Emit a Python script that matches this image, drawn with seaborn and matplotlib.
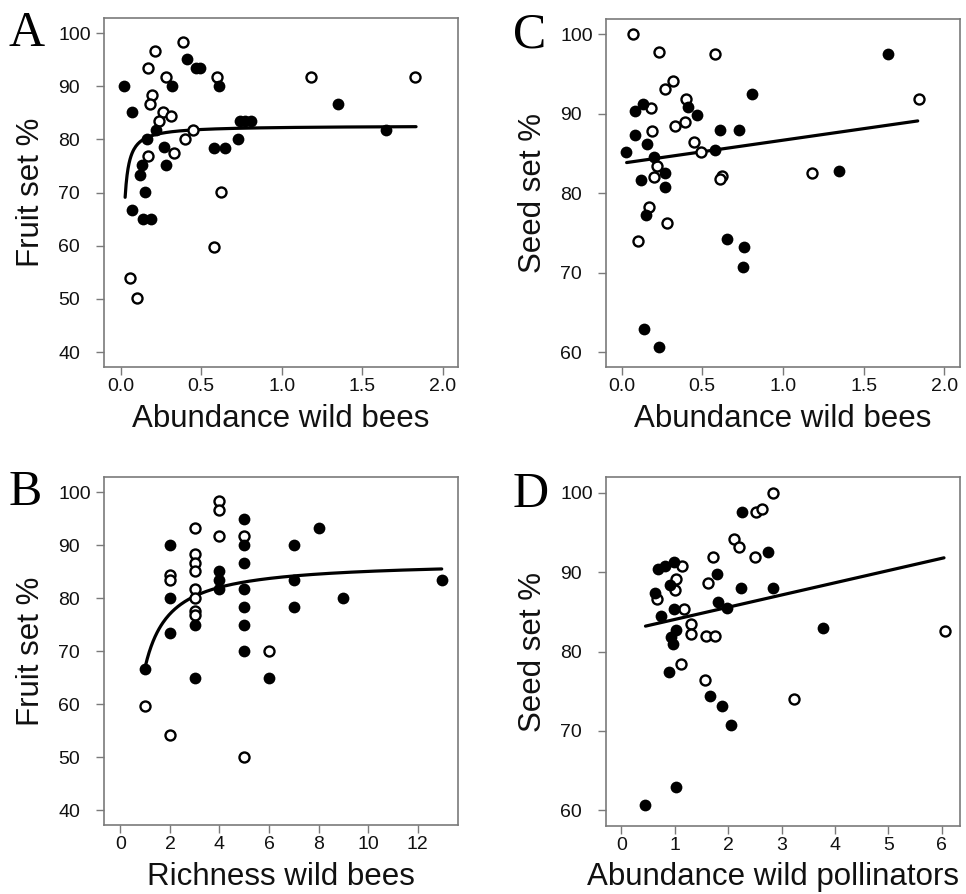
import numpy as np
import pandas as pd
import matplotlib
matplotlib.use("Agg")
import matplotlib.pyplot as plt
import seaborn as sns

sns.set_theme(style="white")
plt.rcParams['font.family'] = ['Liberation Sans', 'DejaVu Sans']

# ---------------- data ----------------
# Panel A: fruit set vs abundance of wild bees
a_fill_x = [0.02, 0.07, 0.41, 0.47, 0.49, 0.32, 0.61, 1.35, 0.74, 0.77, 0.81, 0.22, 0.16,
            0.73, 0.58, 0.65, 0.27, 0.13, 0.28, 0.12, 0.15, 0.07, 0.14, 0.19, 1.65]
a_fill_y = [90.1, 85.1, 95.1, 93.4, 93.4, 90.1, 90.1, 86.7, 83.4, 83.4, 83.4, 81.8, 80.0,
            80.0, 78.3, 78.3, 78.5, 75.1, 75.1, 73.4, 70.1, 66.7, 65.0, 65.0, 81.7]
a_open_x = [0.385, 0.21, 0.17, 0.28, 0.60, 1.18, 1.83, 0.195, 0.18, 0.265, 0.31, 0.235,
            0.45, 0.40, 0.33, 0.17, 0.62, 0.58, 0.06, 0.10]
a_open_y = [98.4, 96.7, 93.4, 91.7, 91.7, 91.7, 91.7, 88.4, 86.7, 85.1, 84.4, 83.5,
            81.8, 80.0, 77.5, 76.8, 70.1, 59.7, 54.0, 50.1]
a_fit = dict(kind="recip", a=82.6, b=0.364, x0=0.027, x1=1.834)

# Panel B: fruit set vs richness of wild bees
b_fill_x = [1, 2, 2, 2, 3, 3, 4, 4, 4, 5, 5, 5, 5, 5, 5, 5, 6, 7, 7, 7, 8, 9, 13]
b_fill_y = [66.6, 90, 80, 73.4, 74.9, 64.9, 85.1, 83.4, 81.7, 95, 90, 86.7, 81.7, 78.4,
            74.9, 70, 64.9, 90, 83.4, 78.4, 93.3, 80, 83.4]
b_open_x = [1, 2, 2, 2, 3, 3, 3, 3, 3, 3, 3, 3, 4, 4, 4, 5, 5, 6]
b_open_y = [59.7, 84.4, 83.4, 54.1, 93.3, 88.4, 86.7, 85.1, 81.7, 80, 77.6, 76.8,
            98.3, 96.7, 91.7, 91.7, 50, 70]
b_fit = dict(kind="recip", a=87.04, b=20.04, x0=1.0, x1=12.97)

# Panel C: seed set vs abundance of wild bees
c_fill_x = [0.03, 0.08, 0.13, 0.08, 0.16, 0.20, 0.12, 0.27, 0.27, 0.15, 0.41, 0.47, 0.61,
            0.73, 0.58, 0.81, 1.65, 1.35, 0.65, 0.76, 0.75, 0.14, 0.23]
c_fill_y = [85.2, 90.4, 91.2, 87.3, 86.2, 84.5, 81.7, 82.6, 80.8, 77.3, 90.8, 89.9, 88.0,
            88.0, 85.5, 92.5, 97.5, 82.8, 74.3, 73.2, 70.7, 62.9, 60.6]
c_open_x = [0.07, 0.23, 0.58, 0.32, 0.27, 0.40, 0.18, 0.33, 0.39, 0.19, 0.45, 0.49, 0.22,
            0.20, 0.62, 0.61, 1.18, 1.84, 0.17, 0.28, 0.10]
c_open_y = [100, 97.8, 97.5, 94.1, 93.1, 91.8, 90.7, 88.4, 89.0, 87.8, 86.5, 85.2, 83.4,
            82.0, 82.2, 81.8, 82.6, 91.9, 78.3, 76.3, 74.0]
c_fit = dict(kind="linear", a=83.77, b=2.905, x0=0.031, x1=1.835)

# Panel D: seed set vs abundance of wild pollinators
d_fill_x = [0.69, 0.81, 0.98, 0.63, 0.91, 1.78, 2.24, 2.83, 2.75, 2.25, 0.74, 0.99, 1.81,
            1.97, 1.03, 0.92, 0.97, 0.89, 1.66, 1.88, 2.06, 3.77, 1.02, 0.44]
d_fill_y = [90.35, 90.8, 91.3, 87.4, 88.4, 89.8, 88.0, 88.0, 92.5, 97.5, 84.5, 85.3, 86.2,
            85.5, 82.7, 81.8, 80.9, 77.4, 74.4, 73.2, 70.7, 82.9, 63.0, 60.7]
d_open_x = [2.84, 2.52, 2.64, 2.11, 2.21, 2.51, 1.72, 1.14, 1.02, 1.01, 1.63, 0.67, 1.17,
            1.30, 1.31, 1.59, 1.75, 1.11, 1.56, 3.23, 6.05]
d_open_y = [100, 97.5, 97.9, 94.2, 93.1, 91.9, 91.9, 90.7, 89.1, 87.8, 88.6, 86.6, 85.4,
            83.5, 82.2, 81.9, 82.0, 78.4, 76.4, 74.0, 82.6]
d_fit = dict(kind="linear", a=82.5, b=1.538, x0=0.45, x1=6.04)

# tick definitions and labels
xticks_ac = [0.0, 0.5, 1.0, 1.5, 2.0]
xticklabels_ac = ["0.0", "0.5", "1.0", "1.5", "2.0"]
xticks_b = [0, 2, 4, 6, 8, 10, 12]
xticks_d = [0, 1, 2, 3, 4, 5, 6]
yticks_ab = [40, 50, 60, 70, 80, 90, 100]
yticks_cd = [60, 70, 80, 90, 100]

# ---------------- figure ----------------
fig = plt.figure(figsize=(9.66, 8.94), dpi=100)

panels = [
    # letter, rect, fill, open, fit, xlim, ylim, xticks, xticklabels, yticks, xlabel, ylabel, letter pos, xlabel x
    ("A", [0.1077, 0.5895, 0.3665, 0.3907], (a_fill_x, a_fill_y), (a_open_x, a_open_y), a_fit,
     (-0.104, 2.095), (37.2, 102.9), xticks_ac, xticklabels_ac, yticks_ab,
     "Abundance wild bees", "Fruit set %", (0.0093, 0.9485), 0.5),
    ("C", [0.6273, 0.5892, 0.3665, 0.3893], (c_fill_x, c_fill_y), (c_open_x, c_open_y), c_fit,
     (-0.097, 2.097), (58.1, 101.9), xticks_ac, xticklabels_ac, yticks_cd,
     "Abundance wild bees", "Seed set %", (0.531, 0.9474), 0.5),
    ("B", [0.1077, 0.0772, 0.3665, 0.3896], (b_fill_x, b_fill_y), (b_open_x, b_open_y), b_fit,
     (-0.66, 13.63), (37.2, 102.9), xticks_b, [str(t) for t in xticks_b], yticks_ab,
     "Richness wild bees", "Fruit set %", (0.0093, 0.4351), 0.5),
    ("D", [0.6273, 0.0766, 0.3665, 0.3893], (d_fill_x, d_fill_y), (d_open_x, d_open_y), d_fit,
     (-0.29, 6.34), (58.1, 101.9), xticks_d, [str(t) for t in xticks_d], yticks_cd,
     "Abundance wild pollinators", "Seed set %", (0.531, 0.4329), 0.472),
]

spine_col = "#7a7a7a"
txt_col = "#111111"

for (letter, rect, fill, opn, fit, xlim, ylim, xt, xtl, yt, xlab, ylab, lpos, xlx) in panels:
    ax = fig.add_axes(rect)
    df_fill = pd.DataFrame({"x": fill[0], "y": fill[1]})
    df_open = pd.DataFrame({"x": opn[0], "y": opn[1]})

    xs = np.linspace(fit["x0"], fit["x1"], 300)
    if fit["kind"] == "recip":
        ys = fit["a"] - fit["b"] / xs
    else:
        ys = fit["a"] + fit["b"] * xs
    df_fit = pd.DataFrame({"x": xs, "y": ys})

    sns.lineplot(data=df_fit, x="x", y="y", ax=ax, color="black", linewidth=2.3,
                 zorder=2, sort=False)
    sns.scatterplot(data=df_open, x="x", y="y", ax=ax, s=52, facecolor="white",
                    edgecolor="black", linewidths=1.7, zorder=3)
    sns.scatterplot(data=df_fill, x="x", y="y", ax=ax, s=72, color="black",
                    edgecolor="black", linewidths=0, zorder=4)

    ax.set_xlim(*xlim)
    ax.set_ylim(*ylim)
    ax.set_xticks(xt, xtl)
    ax.set_yticks(yt, [str(v) for v in yt], ha="left")
    ax.tick_params(axis="both", which="both", direction="out", length=5.5, width=1,
                   color=spine_col, labelsize=14, labelcolor=txt_col,
                   bottom=True, left=True)
    ax.tick_params(axis="y", pad=27.5)
    ax.tick_params(axis="x", pad=2.5)
    for sp in ax.spines.values():
        sp.set_visible(True)
        sp.set_color(spine_col)
        sp.set_linewidth(1.2)

    ax.set_xlabel(xlab, fontsize=22.5, color=txt_col)
    ax.xaxis.set_label_coords(xlx, -0.106)
    ax.set_ylabel(ylab, fontsize=22.5, color=txt_col)
    ax.yaxis.set_label_coords(-0.165, 0.5)
    ax.set_facecolor("white")

    fig.text(lpos[0], lpos[1], letter, fontsize=36, family=["Liberation Serif", "DejaVu Serif"],
             color="black", ha="left", va="baseline")

fig.savefig("out.png", dpi=100, facecolor="white")
